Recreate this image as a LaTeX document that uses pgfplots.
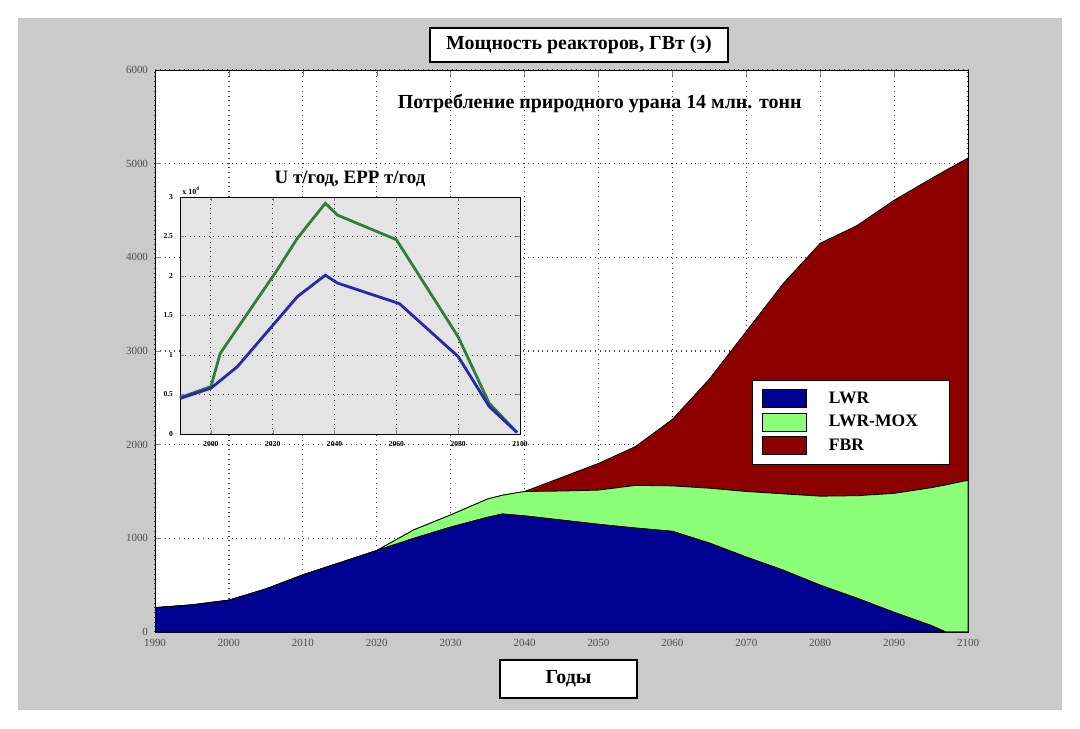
\documentclass[border=0pt]{standalone}
\usepackage{fontspec}
\setmainfont{Liberation Serif}
\usepackage{pgfplots}
\pgfplotsset{compat=1.18}
\usepackage{pgfplotstable}

\definecolor{lwr}{RGB}{0,0,145}
\definecolor{mox}{RGB}{140,255,120}
\definecolor{fbr}{RGB}{140,0,0}
\definecolor{bggray}{RGB}{202,202,202}
\definecolor{ingray}{RGB}{228,228,228}
\definecolor{ingreen}{RGB}{50,125,60}
\definecolor{inblue}{RGB}{40,40,170}

\pgfplotstableread{
year lwr mox fbr
1990 260 0 0
1995 290 0 0
2000 340 0 0
2005 460 0 0
2010 610 0 0
2015 740 0 0
2020 870 0 0
2025 1000 90 0
2030 1120 130 0
2035 1225 195 0
2037 1260 200 0
2040 1240 260 0
2045 1195 310 145
2050 1150 365 285
2055 1110 455 415
2060 1075 485 710
2065 950 585 1165
2070 800 700 1710
2075 660 815 2245
2080 500 950 2700
2085 360 1095 2885
2090 210 1270 3130
2095 70 1470 3300
2097 0 1570 3360
2100 0 1620 3440
}\power

\pgfplotstableread{
year epp
1990 0.46
2000 0.60
2003 1.02
2021 2.05
2028 2.48
2037 2.92
2041 2.77
2060 2.46
2080 1.23
2090 0.39
2099 0.02
}\epp

\pgfplotstableread{
year u
1990 0.45
2000 0.58
2008.5 0.85
2028 1.74
2037 2.01
2041 1.91
2061 1.65
2080 0.98
2090 0.35
2099 0.02
}\uran

\begin{document}
\begin{tikzpicture}[x=1bp,y=1bp]
\fill[white] (0,0) rectangle (540,364);
\fill[bggray] (9,9) rectangle (531,355);

\begin{axis}[
  at={(77.5bp,48bp)}, anchor=south west,
  width=406.5bp, height=281bp, scale only axis,
  xmin=1990, xmax=2100, ymin=0, ymax=6000,
  xtick={1990,2000,...,2100}, ytick={0,1000,...,6000},
  grid=major, major grid style={dotted, black!75, line width=0.6bp},
  tick align=inside, major tick length=3bp,
  axis background/.style={fill=white},
  tick label style={font=\fontsize{5.5}{6}\selectfont, text=black!70},
  /pgf/number format/assume math mode=true,
  /pgf/number format/1000 sep={},
  scaled y ticks=false,
  stack plots=y,
  legend style={at={(0.734,0.448)}, anchor=north west, draw=black, fill=white,
    font=\bfseries\fontsize{8.8}{10}\selectfont, inner xsep=5bp, inner ysep=3.5bp,
    row sep=0.5bp, cells={anchor=west}, text width=53bp,
    /tikz/every odd column/.append style={column sep=9bp}},
  legend image code/.code={\fill[#1] (0bp,-4.5bp) rectangle (22bp,4.5bp);},
]
\addplot[fill=lwr, draw=black, line width=0.4bp] table[x=year,y=lwr]{\power} \closedcycle;
\addplot[fill=mox, draw=black, line width=0.4bp] table[x=year,y=mox]{\power} \closedcycle;
\addplot[fill=fbr, draw=black, line width=0.4bp] table[x=year,y=fbr]{\power} \closedcycle;
\legend{LWR,LWR-MOX,FBR}
\node[font=\bfseries\fontsize{10}{12}\selectfont] at (rel axis cs:0.547,0.941) {Потребление природного урана 14 млн. тонн};
\end{axis}

\begin{axis}[
  at={(90bp,147bp)}, anchor=south west,
  width=170bp, height=118.5bp, scale only axis,
  clip=false,
  xmin=1990, xmax=2100, ymin=0, ymax=3,
  xtick={2000,2020,...,2100}, ytick={0,0.5,...,3},
  grid=major, major grid style={dotted, black!75, line width=0.5bp},
  tick align=inside, major tick length=2bp,
  axis background/.style={fill=ingray},
  tick label style={font=\bfseries\fontsize{3.8}{4}\selectfont},
  /pgf/number format/assume math mode=true,
  /pgf/number format/1000 sep={},
  yticklabel style={/pgf/number format/fixed},
]
\addplot[ingreen, line width=1.4bp] table[x=year,y=epp]{\epp};
\addplot[inblue, line width=1.4bp] table[x=year,y=u]{\uran};
\node[anchor=south west, font=\bfseries\fontsize{4}{5}\selectfont, inner sep=1bp] at (rel axis cs:0,1) {x 10\textsuperscript{4}};
\node[anchor=south, font=\bfseries\fontsize{9.5}{11}\selectfont, inner sep=0pt] at ([yshift=5bp]rel axis cs:0.5,1) {U т/год, ЕРР т/год};
\end{axis}

\node[draw=black, line width=1bp, fill=white, minimum width=149bp, minimum height=17bp,
  font=\bfseries\fontsize{10}{12}\selectfont] at (289.5,341.5) {Мощность реакторов, ГВт (э)};
\node[draw=black, line width=1bp, fill=white, minimum width=68.5bp, minimum height=19bp,
  font=\bfseries\fontsize{10}{12}\selectfont] at (284.25,24.5) {Годы};
\end{tikzpicture}
\end{document}
